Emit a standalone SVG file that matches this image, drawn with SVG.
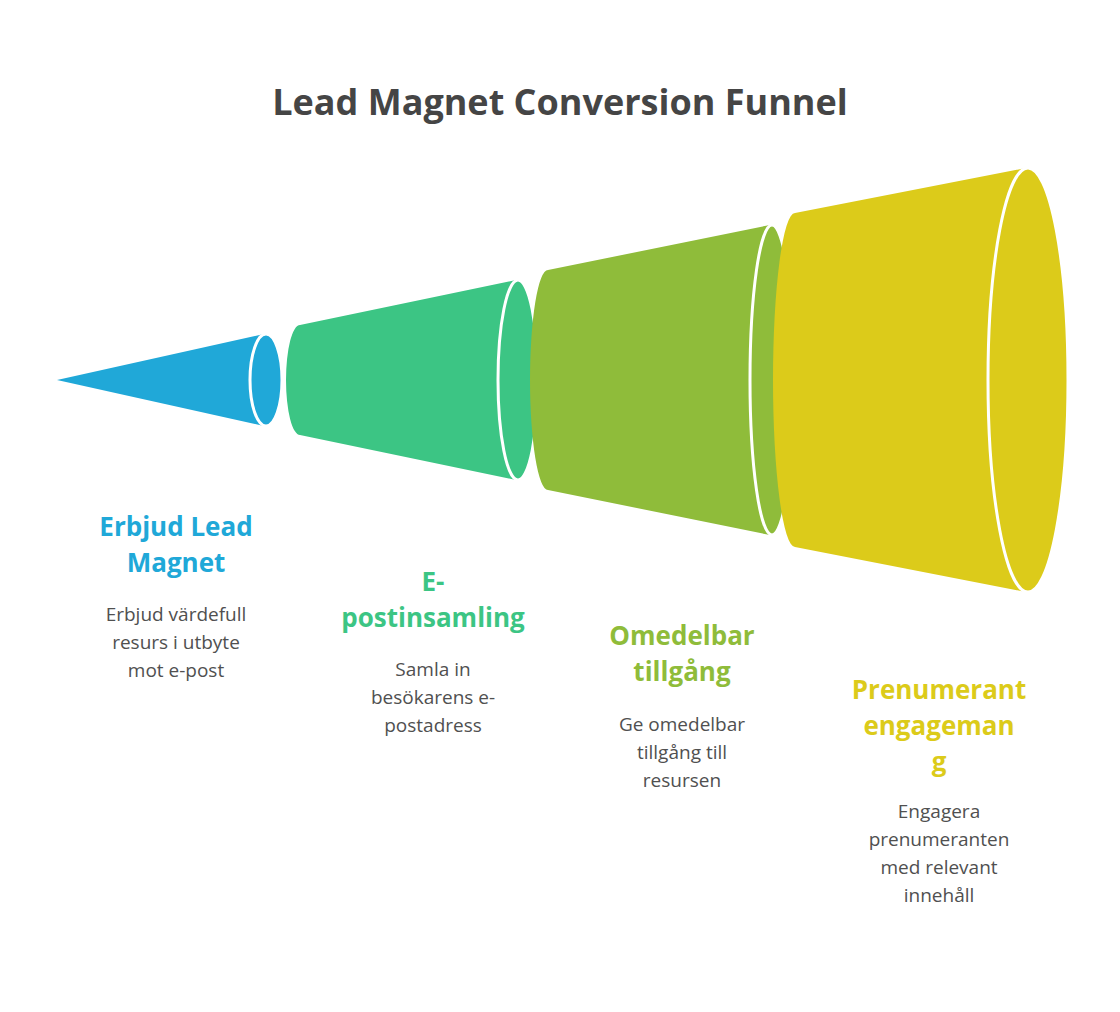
<svg xmlns="http://www.w3.org/2000/svg" width="1120" height="1012" viewBox="0 0 1120 1012">
<style>
.t{font-family:"Open Sans","Liberation Sans",sans-serif;text-anchor:middle}
.h{font-weight:bold;font-size:26px}
.d{font-size:19px;fill:#505050}
.cap{stroke:#fff;stroke-width:3}
</style>
<rect width="1120" height="1012" fill="#fff"/>
<text class="t" x="560" y="115" font-size="36" font-weight="bold" fill="#454545">Lead Magnet Conversion Funnel</text>
<g id="stage1">
<path d="M57,380 L264,334 L264,426 Z" fill="#20a8d8"/>
<ellipse class="cap" cx="266" cy="380" rx="16" ry="46" fill="#20a8d8"/>
<text class="t h" fill="#20a8d8" x="176" y="536">Erbjud Lead</text>
<text class="t h" fill="#20a8d8" x="176" y="572">Magnet</text>
<text class="t d" x="176" y="621">Erbjud värdefull</text>
<text class="t d" x="176" y="649">resurs i utbyte</text>
<text class="t d" x="176" y="677">mot e-post</text>
</g>
<g id="stage2">
<path d="M300,325 L516,280 L516,480 L300,435 A14,55 0 0 1 300,325 Z" fill="#3cc584"/>
<ellipse class="cap" cx="518" cy="380" rx="20" ry="100" fill="#3cc584"/>
<text class="t h" fill="#3cc584" x="433" y="591">E-</text>
<text class="t h" fill="#3cc584" x="433" y="627">postinsamling</text>
<text class="t d" x="433" y="676">Samla in</text>
<text class="t d" x="433" y="704">besökarens e-</text>
<text class="t d" x="433" y="732">postadress</text>
</g>
<g id="stage3">
<path d="M548,270 L770,225 L770,535 L548,490 A18,110 0 0 1 548,270 Z" fill="#8fbc3a"/>
<ellipse class="cap" cx="772" cy="380" rx="22" ry="155" fill="#8fbc3a"/>
<text class="t h" fill="#8fbc3a" x="682" y="645">Omedelbar</text>
<text class="t h" fill="#8fbc3a" x="682" y="681">tillgång</text>
<text class="t d" x="682" y="731">Ge omedelbar</text>
<text class="t d" x="682" y="759">tillgång till</text>
<text class="t d" x="682" y="787">resursen</text>
</g>
<g id="stage4">
<path d="M795,213 L1026,168 L1026,592 L795,547 A22,167 0 0 1 795,213 Z" fill="#dccb1a"/>
<ellipse class="cap" cx="1028" cy="380" rx="40" ry="212" fill="#dccb1a"/>
<text class="t h" fill="#dccb1a" x="939" y="699">Prenumerant</text>
<text class="t h" fill="#dccb1a" x="939" y="735">engageman</text>
<text class="t h" fill="#dccb1a" x="939" y="771">g</text>
<text class="t d" x="939" y="818">Engagera</text>
<text class="t d" x="939" y="846">prenumeranten</text>
<text class="t d" x="939" y="874">med relevant</text>
<text class="t d" x="939" y="902">innehåll</text>
</g>
<g id="connectors"/>
</svg>
